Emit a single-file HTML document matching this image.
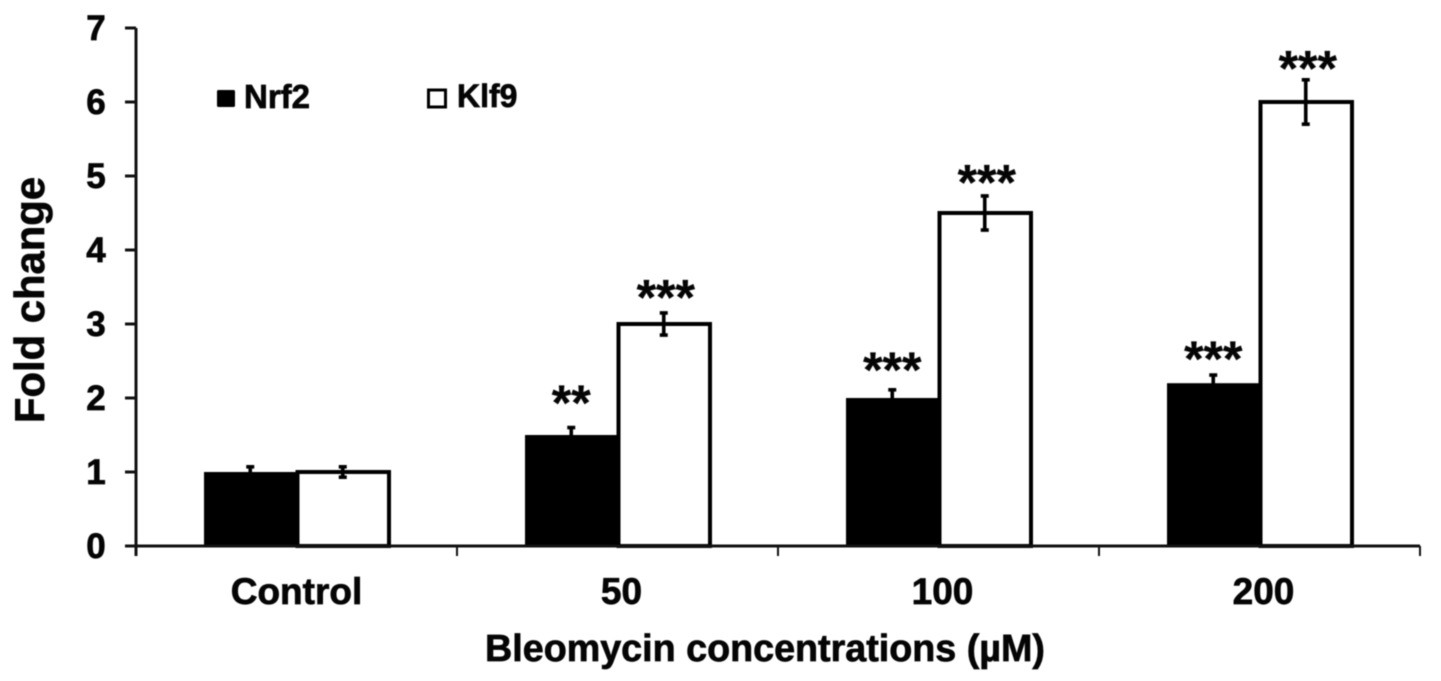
<!DOCTYPE html>
<html lang="en">
<head>
<meta charset="utf-8">
<title>Fold change by bleomycin concentration</title>
<style>
html,body{margin:0;padding:0;background:#fff;width:1441px;height:681px;overflow:hidden}
svg{display:block;font-family:"Liberation Sans",Arial,sans-serif;font-weight:bold;fill:#000;filter:blur(.5px)}
text{fill:#050505;stroke:#050505;stroke-width:.7px}
text.stars{stroke-width:.3px}
</style>
</head>
<body>
<svg id="chart" width="1441" height="681" viewBox="0 0 1441 681" xmlns="http://www.w3.org/2000/svg"></svg>
<script>
const categories = ['Control', '50', '100', '200'];
const nrf2Values = [1, 1.5, 2, 2.2];
const klf9Values = [1, 3, 4.5, 6];
const nrf2Errors = [0.07, 0.1, 0.11, 0.11];
const klf9Errors = [0.07, 0.15, 0.23, 0.3];
const nrf2Stars = ['', '**', '***', '***'];
const klf9Stars = ['', '***', '***', '***'];
const nrf2StarLevels = [0, 2.03, 2.47, 2.62];
const klf9StarLevels = [0, 3.45, 5.01, 6.55];
const yTicks = [0, 1, 2, 3, 4, 5, 6, 7];

const NS = 'http://www.w3.org/2000/svg';
const svg = document.getElementById('chart');
const plot = { left: 136, right: 1420, top: 28, bottom: 546 };
const yMax = 7;
const barWidth = 92.5;
const inkColor = '#111';

function yScale(v) {
  return plot.bottom - (v / yMax) * (plot.bottom - plot.top);
}
function groupCenter(i) {
  return plot.left + (i + 0.5) * (plot.right - plot.left) / categories.length;
}
function groupEdge(i) {
  return plot.left + i * (plot.right - plot.left) / categories.length;
}
function make(tag, attrs, text) {
  const el = document.createElementNS(NS, tag);
  for (const k in attrs) el.setAttribute(k, attrs[k]);
  if (text !== undefined) el.textContent = text;
  svg.appendChild(el);
  return el;
}
function line(x1, y1, x2, y2, w) {
  return make('line', { x1, y1, x2, y2, stroke: inkColor, 'stroke-width': w });
}

// y axis
const yAxis = line(plot.left, plot.top, plot.left, plot.bottom + 10, 3);



yTicks.forEach(function (t) {
  const tick = line(plot.left - 11, yScale(t), plot.left, yScale(t), 3);
  
  
  const label = make('text', { x: 96, y: yScale(t) + 12, 'text-anchor': 'middle', 'font-size': 35 }, String(t));
  
  
});

// bars and error bars
function drawBar(i, value, err, stars, starLevel, isFilled, seriesName) {
  const x = isFilled ? groupCenter(i) - barWidth : groupCenter(i);
  const y = yScale(value);
  const h = plot.bottom - y;
  const bar = isFilled
    ? make('rect', { x: x, y: y, width: barWidth, height: h, fill: '#000' })
    : make('rect', { x: x + 1, y: y, width: barWidth - 1, height: h, fill: '#fff', stroke: '#000', 'stroke-width': 4 });
  
  

  const cx = x + barWidth / 2;
  const topY = yScale(value + err);
  const botY = yScale(value - err);
  const errorBar = make('path', {
    d: 'M' + cx + ' ' + topY + 'V' + botY + 'M' + (cx - 4) + ' ' + topY + 'H' + (cx + 4) + 'M' + (cx - 4) + ' ' + botY + 'H' + (cx + 4),
    fill: 'none',
    stroke: '#000',
    'stroke-width': 3.6
  });
  
  

  if (stars) {
    const mark = make('text', { x: cx + (isFilled ? 0 : 2), y: yScale(starLevel) + 24, 'text-anchor': 'middle', 'font-size': 50, class: 'stars' }, stars);
    
    
  }
}
categories.forEach(function (c, i) {
  drawBar(i, nrf2Values[i], nrf2Errors[i], nrf2Stars[i], nrf2StarLevels[i], true, 'nrf2');
  drawBar(i, klf9Values[i], klf9Errors[i], klf9Stars[i], klf9StarLevels[i], false, 'klf9');
});

// x axis
const xAxis = line(plot.left - 11, plot.bottom, plot.right, plot.bottom, 3);



categories.forEach(function (c, i) {
  if (i > 0) {
    const tick = line(groupEdge(i), plot.bottom, groupEdge(i), plot.bottom + 10, 2);
    
    
  }
  const label = make('text', { x: groupCenter(i) + (i > 0 ? 4 : 0), y: 604, 'text-anchor': 'middle', 'font-size': 37 }, c);
  
  
});
const endTick = line(plot.right, plot.bottom, plot.right, plot.bottom + 10, 2);



// axis titles
const xTitle = make('text', { x: 765, y: 661, 'text-anchor': 'middle', 'font-size': 37.7 }, 'Bleomycin concentrations (µM)');



const yTitle = make('text', { x: 0, y: 0, 'text-anchor': 'middle', 'font-size': 41.8, transform: 'translate(44 300) rotate(-90)' }, 'Fold change');



// legend
const nrf2Swatch = make('rect', { x: 217, y: 90, width: 18, height: 17, rx: 1.5, fill: '#000' });


const nrf2Label = make('text', { x: 244, y: 108, 'font-size': 33 }, 'Nrf2');



const klf9Swatch = make('rect', { x: 428.5, y: 90, width: 17, height: 17, fill: '#fff', stroke: '#000', 'stroke-width': 3 });


const klf9Label = make('text', { x: 457, y: 107, 'font-size': 32 }, 'Klf9');


</script>
</body>
</html>
